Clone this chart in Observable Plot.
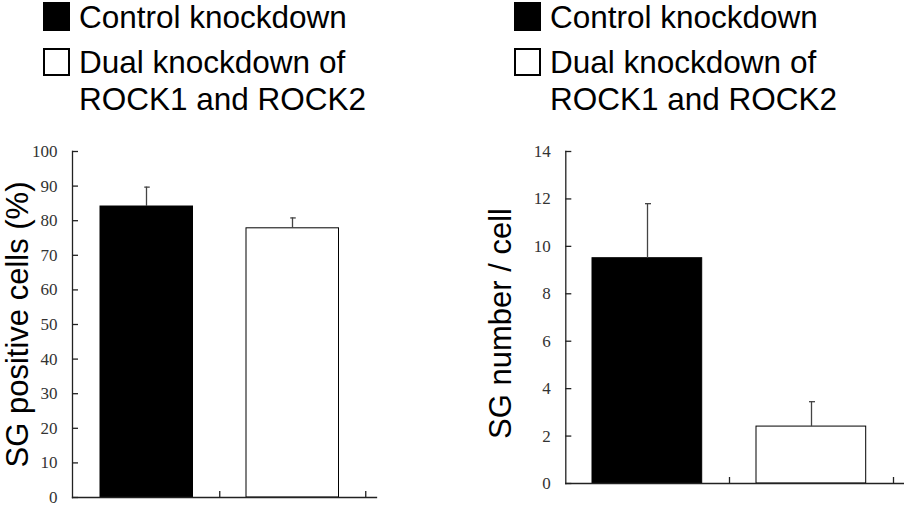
<!DOCTYPE html>
<html>
<head>
<meta charset="utf-8">
<script src="https://cdn.jsdelivr.net/npm/d3@7"></script>
<script src="https://cdn.jsdelivr.net/npm/@observablehq/plot@0.6"></script>
<style>
  html, body { margin: 0; padding: 0; background: #fff; }
  #root { position: relative; width: 904px; height: 510px; overflow: hidden; font-family: "Liberation Sans", Arial, sans-serif; }
  .panel { position: absolute; top: 130px; }
  .leg { position: absolute; font-size: 31.5px; color: #000; line-height: 1; white-space: nowrap; }
  .sw { position: absolute; box-sizing: border-box; }
  .panel g[aria-label="y-axis tick label"] text { font-family: "Liberation Serif", "DejaVu Serif", serif !important; }
</style>
</head>
<body>
<div id="root"></div>
<script>
// ---- data ----
const categories = ["Control knockdown", "Dual knockdown of ROCK1 and ROCK2"];
const legendLines = [["Control knockdown"], ["Dual knockdown of", "ROCK1 and ROCK2"]];
const fills = ["#000000", "#ffffff"];

const sgPositive = [84.1, 77.8];
const sgPositiveErr = [5.6, 3.0];
const sgNumber = [9.5, 2.4];
const sgNumberErr = [2.3, 1.05];

const ticksPercent = [0, 10, 20, 30, 40, 50, 60, 70, 80, 90, 100];
const ticksNumber = [0, 2, 4, 6, 8, 10, 12, 14];

const labelPercent = "SG positive cells (%)";
const labelNumber = "SG number / cell";

const root = document.getElementById("root");

function legend(left) {
  const sq1 = document.createElement("div");
  sq1.className = "sw";
  Object.assign(sq1.style, {left: left + "px", top: "2px", width: "27px", height: "29px", background: fills[0]});
  root.appendChild(sq1);
  const sq2 = document.createElement("div");
  sq2.className = "sw";
  Object.assign(sq2.style, {left: left + "px", top: "48px", width: "27px", height: "28px", background: fills[1], border: "2px solid #000"});
  root.appendChild(sq2);
  const tops = [[2], [47, 84]];
  legendLines.forEach((lines, i) => {
    lines.forEach((t, j) => {
      const d = document.createElement("div");
      d.className = "leg";
      d.textContent = t;
      d.style.left = (left + 36) + "px";
      d.style.top = tops[i][j] + "px";
      root.appendChild(d);
    });
  });
}
legend(43);
legend(514);

function panel({values, errs, ticks, domainMax, label, left, width, height, marginLeft, marginRight, rangeEnd, inL, inR, labelDx, labelDy}) {
  const data = categories.map((c, i) => ({cat: c, v: values[i], e: errs[i], fill: fills[i]}));
  const step = (rangeEnd - marginLeft) / categories.length;
  const ink = "#222";
  const plot = Plot.plot({
    width, height,
    marginTop: 21, marginBottom: 13, marginLeft, marginRight,
    style: {background: "transparent", overflow: "visible", fontFamily: "'Liberation Serif', 'DejaVu Serif', serif"},
    x: {domain: categories, range: [marginLeft, rangeEnd], padding: 0, axis: null},
    y: {domain: [0, domainMax], axis: null, label: null},
    marks: [
      Plot.barY(data, {x: "cat", y: "v", fill: "fill", stroke: "#000", strokeWidth: 1, insetLeft: inL, insetRight: inR}),
      Plot.ruleX(data, {x: "cat", y1: "v", y2: d => d.v + d.e, stroke: "#444", strokeWidth: 1.3}),
      Plot.tickY(data, {x: "cat", y: d => d.v + d.e, stroke: "#444", strokeWidth: 1.3, insetLeft: step / 2 - 2, insetRight: step / 2 - 4}),
      Plot.frame({anchor: "left", stroke: ink, strokeWidth: 1.3}),
      Plot.frame({anchor: "bottom", stroke: ink, strokeWidth: 1.3}),
      Plot.ruleX(categories, {x: d => d, y1: 0, y2: 0, insetTop: -6, dx: step / 2, stroke: ink, strokeWidth: 1.3}),
      Plot.axisY({ticks, tickSize: -6, tickFormat: () => "", stroke: ink, strokeWidth: 1.3, label: null}),
      Plot.axisY({ticks, tickSize: 0, tickPadding: 15, fontSize: 17, fill: "#333", label: null,
        fontFamily: "'Liberation Serif', 'DejaVu Serif', serif"}),
      Plot.text([label], {frameAnchor: "left", text: d => d, rotate: -90, dx: labelDx, dy: labelDy,
        fontSize: 31, fontFamily: "'Liberation Sans', Arial, sans-serif", fill: "#000", textAnchor: "middle", lineAnchor: "middle"})
    ]
  });
  plot.classList.add("panel");
  plot.style.left = left + "px";
  root.appendChild(plot);
}

panel({values: sgPositive, errs: sgPositiveErr, ticks: ticksPercent, domainMax: 100, label: labelPercent,
  left: 0, width: 452, height: 380, marginLeft: 72, marginRight: 76, rangeEnd: 365, inL: 27, inR: 26.5, labelDx: -54, labelDy: 0});
panel({values: sgNumber, errs: sgNumberErr, ticks: ticksNumber, domainMax: 14, label: labelNumber,
  left: 452, width: 452, height: 366, marginLeft: 113.3, marginRight: 1, rangeEnd: 441.3, inL: 27, inR: 27.3, labelDx: -65, labelDy: 6});
</script>
</body>
</html>
